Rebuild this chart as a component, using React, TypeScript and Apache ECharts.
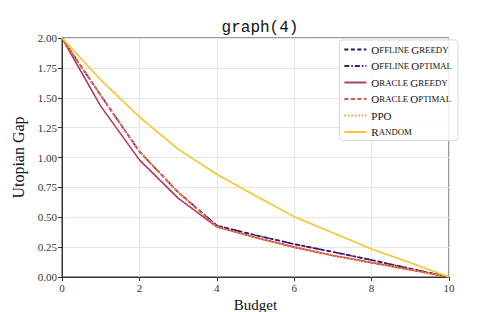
import React, { useEffect, useRef } from "react";
import * as echarts from "echarts";

const budget = [0, 1, 2, 3, 4, 5, 6, 7, 8, 9, 10];
const offlineGreedy = [2.0, 1.52, 1.05, 0.71, 0.43, 0.35, 0.275, 0.21, 0.142, 0.07, 0.0];
const offlineOptimal = [2.0, 1.52, 1.05, 0.71, 0.43, 0.35, 0.275, 0.21, 0.142, 0.07, 0.0];
const oracleGreedy = [2.0, 1.43, 0.98, 0.66, 0.42, 0.33, 0.25, 0.18, 0.12, 0.06, 0.0];
const oracleOptimal = [2.0, 1.52, 1.05, 0.71, 0.42, 0.33, 0.25, 0.18, 0.12, 0.06, 0.0];
const ppo = [2.0, 1.52, 1.05, 0.71, 0.42, 0.33, 0.25, 0.18, 0.12, 0.06, 0.0];
const random = [2.0, 1.65, 1.34, 1.07, 0.86, 0.68, 0.505, 0.37, 0.234, 0.12, 0.0];

const seriesNames = ["Offline Greedy", "Offline Optimal", "Oracle Greedy", "Oracle Optimal", "PPO", "Random"];
const seriesData = [offlineGreedy, offlineOptimal, oracleGreedy, oracleOptimal, ppo, random];
const seriesColors = ["#231a5a", "#4b1485", "#b03a68", "#e0504a", "#f99a2c", "#f5c72e"];
const seriesDash: any[] = [[4, 2.5], [5, 2, 1.5, 2], "solid", [4, 2.5], [1.5, 2], "solid"];

const serif = "'Liberation Serif', 'DejaVu Serif', serif";

function smallCaps(name: string) {
  if (name === name.toUpperCase()) return `{b|${name}}`;
  return name
    .split(" ")
    .map((w) => `{b|${w[0].toUpperCase()}}{s|${w.slice(1).toUpperCase()}}`)
    .join("{s| }");
}

export default function App() {
  const ref = useRef<HTMLDivElement>(null);
  useEffect(() => {
    if (!ref.current) return;
    const chart = echarts.init(ref.current, undefined, { renderer: "svg" });
    chart.setOption({
      animation: false,
      backgroundColor: "#ffffff",
      title: {
        text: "graph(4)",
        left: 255,
        textAlign: "center",
        top: 15,
        textStyle: { fontFamily: "'Liberation Mono', 'DejaVu Sans Mono', monospace", fontSize: 16, fontWeight: "normal", color: "#111" },
      },
      grid: { left: 62, right: 50, top: 38, bottom: 35, show: true, borderColor: "#333", borderWidth: 1, outerBoundsMode: "none", containLabel: false },
      legend: {
        right: 41,
        top: 40,
        orient: "vertical",
        itemWidth: 22,
        itemHeight: 9,
        itemGap: 5.5,
        padding: [4, 6, 3, 4],
        borderColor: "#d8d8d8",
        borderWidth: 1,
        borderRadius: 3,
        backgroundColor: "rgba(255,255,255,0.85)",
        itemStyle: { opacity: 0 },
        formatter: (n: string) => smallCaps(n),
        textStyle: {
          fontFamily: serif,
          color: "#111",
          rich: {
            b: { fontSize: 11, fontFamily: serif, color: "#111" },
            s: { fontSize: 8.8, fontFamily: serif, color: "#111" },
          },
        },
        data: seriesNames,
      },
      xAxis: {
        type: "value",
        min: 0,
        max: 10,
        interval: 2,
        name: "Budget",
        nameLocation: "middle",
        nameGap: 17,
        nameTextStyle: { fontFamily: serif, fontSize: 15, lineHeight: 15, color: "#111" },
        axisLine: { show: true, lineStyle: { color: "#333" } },
        axisTick: { show: true, length: 4, lineStyle: { color: "#333" } },
        axisLabel: { fontFamily: serif, fontSize: 11, color: "#333", margin: 5 },
        splitLine: { show: true, lineStyle: { color: "#e6e6e6" } },
      },
      yAxis: {
        type: "value",
        min: 0,
        max: 2,
        interval: 0.25,
        name: "Utopian Gap",
        nameLocation: "middle",
        nameGap: 30,
        nameTextStyle: { fontFamily: serif, fontSize: 16, color: "#111" },
        axisLine: { show: true, lineStyle: { color: "#333" } },
        axisTick: { show: true, length: 4, lineStyle: { color: "#333" } },
        axisLabel: { fontFamily: serif, fontSize: 11, color: "#333", margin: 5, formatter: (v: number) => v.toFixed(2) },
        splitLine: { show: true, lineStyle: { color: "#e6e6e6" } },
      },
      series: seriesNames.map((name, i) => ({
        name,
        type: "line",
        data: budget.map((b, j) => [b, seriesData[i][j]]),
        symbol: "none",
        color: seriesColors[i],
        lineStyle: { color: seriesColors[i], width: 1.6, type: seriesDash[i] },
        z: 2 + i,
      })),
    });
    return () => chart.dispose();
  }, []);
  return <div ref={ref} style={{ position: "fixed", left: 0, top: 0, width: 499, height: 312 }} />;
}
